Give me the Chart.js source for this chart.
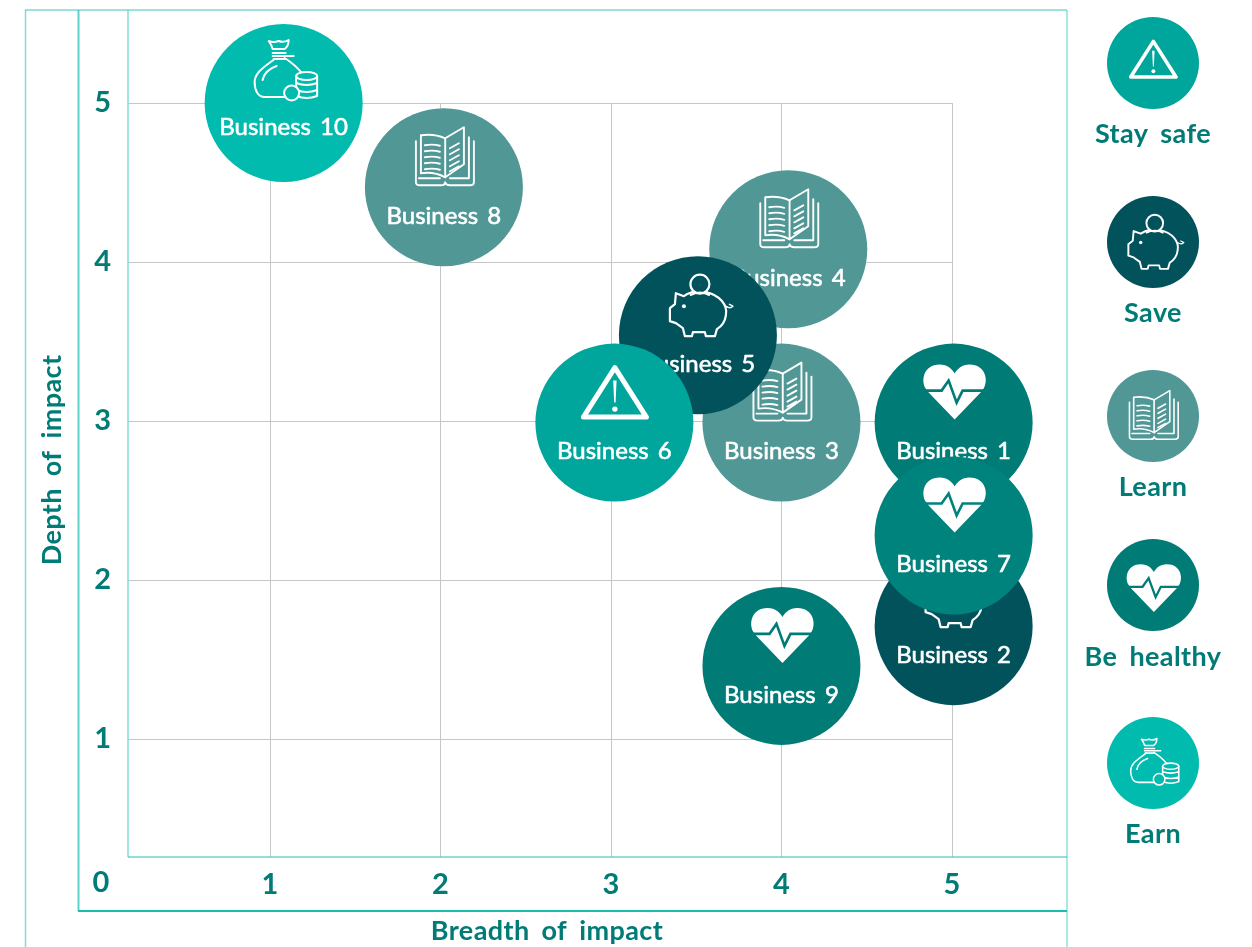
<!DOCTYPE html>
<html>
<head>
<meta charset="utf-8">
<title>Impact of businesses</title>
<script src="https://cdn.jsdelivr.net/npm/chart.js@4/dist/chart.umd.min.js"></script>
<style>
  html, body { margin: 0; padding: 0; background: #fff; }
  canvas { display: block; }
</style>
</head>
<body>
<canvas id="impactChart" width="1252" height="947"></canvas>
<script>
// values
const businesses = ['Business 10', 'Business 8', 'Business 4', 'Business 3', 'Business 5', 'Business 6', 'Business 1', 'Business 2', 'Business 7', 'Business 9'];
const breadth = [1.08, 2.02, 4.04, 4.0, 3.51, 3.02, 5.01, 5.01, 5.01, 4.0];
const depth = [5.0, 4.47, 4.08, 2.99, 3.54, 2.99, 2.99, 1.71, 2.28, 1.46];
const businessPillar = ['Earn', 'Learn', 'Learn', 'Learn', 'Save', 'Stay safe', 'Be healthy', 'Save', 'Be healthy', 'Be healthy'];
const pillars = ['Stay safe', 'Save', 'Learn', 'Be healthy', 'Earn'];
const tickValues = [1, 2, 3, 4, 5];

const FONT = 'Lato, sans-serif';
const TEXT_COLOR = '#007B76';
const GRID_COLOR = '#C6C6C6';
const pillarColors = { 'Stay safe': '#00A59B', 'Save': '#02525C', 'Learn': '#509796', 'Be healthy': '#007B76', 'Earn': '#00BBAE' };
const legendY = [63, 242, 416, 585, 763];
const legendTextY = [134, 313, 487, 657, 834];
// scale and y shift that fit each icon into the smaller legend circle
const legendIconFit = { 'Stay safe': [0.72, 18], 'Save': [0.88, 26], 'Learn': [0.84, 25], 'Be healthy': [0.87, 29.6], 'Earn': [0.77, 24] };

function bubbleColor(name, pillar) {
  if (name === 'Business 7') return '#00827D'; // this one is a bit lighter in the original
  return pillarColors[pillar];
}

function poly(ctx, pts) {
  ctx.beginPath();
  pts.forEach((p, i) => { if (i === 0) ctx.moveTo(p[0], p[1]); else ctx.lineTo(p[0], p[1]); });
}

// icons are drawn relative to the circle centre, sized for the big bubbles
function drawWarning(ctx) {
  ctx.lineWidth = 5;
  ctx.lineJoin = 'round';
  poly(ctx, [[0.5, -55], [32, -5.5], [-31, -5.5]]);
  ctx.closePath();
  ctx.stroke();
  ctx.beginPath();
  ctx.moveTo(-1.2, -42);
  ctx.lineTo(2.2, -42);
  ctx.lineTo(1.2, -20);
  ctx.lineTo(-0.2, -20);
  ctx.closePath();
  ctx.fill();
  ctx.beginPath();
  ctx.arc(0.5, -13.5, 2.7, 0, Math.PI * 2);
  ctx.fill();
}

function drawPig(ctx) {
  ctx.lineWidth = 2.2;
  ctx.lineJoin = 'round';
  ctx.beginPath();
  ctx.arc(2, -51, 9.5, 0, Math.PI * 2);
  ctx.stroke();
  ctx.beginPath();
  ctx.moveTo(-8, -40);
  ctx.quadraticCurveTo(2, -45, 12, -40);
  ctx.stroke();
  ctx.beginPath();
  ctx.moveTo(8, -43);
  ctx.bezierCurveTo(22, -40, 30, -30, 28, -20);
  ctx.quadraticCurveTo(27, -11, 19, -6);
  ctx.lineTo(17, 1);
  ctx.lineTo(8, 1);
  ctx.lineTo(7, -3);
  ctx.lineTo(-5, -3);
  ctx.lineTo(-6, 1);
  ctx.lineTo(-13, 1);
  ctx.lineTo(-15, -7);
  ctx.lineTo(-22, -12);
  ctx.lineTo(-28, -14);
  ctx.lineTo(-28, -27);
  ctx.lineTo(-23, -31);
  ctx.lineTo(-22, -42);
  ctx.lineTo(-14, -39);
  ctx.quadraticCurveTo(-8, -43, -3, -43.5);
  ctx.stroke();
  ctx.beginPath();
  ctx.arc(-14, -29, 2, 0, Math.PI * 2);
  ctx.fill();
  ctx.lineWidth = 1.4;
  ctx.beginPath();
  ctx.moveTo(28, -29);
  ctx.quadraticCurveTo(32, -26, 35, -29);
  ctx.lineTo(31, -31);
  ctx.stroke();
}

function drawBook(ctx) {
  ctx.lineWidth = 1.9;
  ctx.lineJoin = 'round';
  ctx.lineCap = 'round';
  // left page
  ctx.beginPath();
  ctx.moveTo(1.3, -49);
  ctx.quadraticCurveTo(-10, -54, -23, -52);
  ctx.lineTo(-23, -14);
  ctx.quadraticCurveTo(-10, -16, 1.3, -10);
  ctx.stroke();
  // right page
  poly(ctx, [[1.3, -49], [20, -60], [20, -23], [1.3, -10]]);
  ctx.closePath();
  ctx.stroke();
  // cover
  ctx.beginPath();
  ctx.moveTo(-28, -46);
  ctx.lineTo(-28, -5);
  ctx.quadraticCurveTo(-28, -2, -24, -2);
  ctx.lineTo(-3, -2);
  ctx.quadraticCurveTo(1, -2, 1.3, -5);
  ctx.quadraticCurveTo(2, -2, 6, -2);
  ctx.lineTo(26, -2);
  ctx.quadraticCurveTo(30, -2, 30, -5);
  ctx.lineTo(30, -46);
  ctx.stroke();
  ctx.beginPath();
  ctx.moveTo(25, -50);
  ctx.lineTo(25, -9);
  ctx.lineTo(6, -9);
  ctx.moveTo(-25, -9);
  ctx.lineTo(-4, -9);
  ctx.stroke();
  // lines of text
  [-42, -36, -30, -24, -18].forEach(y => {
    ctx.beginPath();
    ctx.moveTo(-19, y);
    ctx.quadraticCurveTo(-11, y - 1.5, -4, y + 0.5);
    ctx.stroke();
  });
  [-43, -37, -31, -25, -20].forEach(y => {
    ctx.beginPath();
    ctx.moveTo(6, y + 4);
    ctx.lineTo(15, y - 1);
    ctx.stroke();
  });
}

function drawHeart(ctx, fill) {
  ctx.beginPath();
  ctx.moveTo(1, -3);
  ctx.lineTo(-25, -30);
  ctx.lineTo(-28, -34);
  ctx.bezierCurveTo(-33, -42, -30, -58, -14, -58);
  ctx.bezierCurveTo(-6, -58, -1, -53, 1, -49);
  ctx.bezierCurveTo(3, -53, 8, -58, 16, -58);
  ctx.bezierCurveTo(32, -58, 35, -42, 30, -34);
  ctx.lineTo(27, -30);
  ctx.closePath();
  ctx.fill();
  ctx.save();
  ctx.strokeStyle = fill;
  ctx.lineWidth = 2.6;
  ctx.lineJoin = 'miter';
  poly(ctx, [[-33, -32], [-12, -32], [-5, -42], [3, -20], [9, -32], [34, -32]]);
  ctx.stroke();
  ctx.restore();
}

function drawMoney(ctx, fill) {
  ctx.lineWidth = 2;
  ctx.lineJoin = 'round';
  ctx.lineCap = 'round';
  // knot
  ctx.beginPath();
  ctx.moveTo(-15, -62);
  ctx.quadraticCurveTo(-10, -60, -5, -62);
  ctx.quadraticCurveTo(0, -60, 5, -63);
  ctx.quadraticCurveTo(5, -57, 1, -54);
  ctx.lineTo(-11, -54);
  ctx.quadraticCurveTo(-12, -58, -15, -62);
  ctx.stroke();
  ctx.beginPath();
  ctx.moveTo(-11, -50);
  ctx.lineTo(2, -50);
  ctx.moveTo(-11, -47);
  ctx.lineTo(10, -47);
  ctx.moveTo(-10, -44);
  ctx.lineTo(2, -44);
  ctx.stroke();
  // bag
  ctx.beginPath();
  ctx.moveTo(-9, -44);
  ctx.bezierCurveTo(-18, -37, -29, -31, -29, -21);
  ctx.bezierCurveTo(-29, -13, -26, -6, -19, -6);
  ctx.lineTo(2, -6);
  ctx.moveTo(1, -45);
  ctx.quadraticCurveTo(12, -38, 19, -29);
  ctx.stroke();
  ctx.beginPath();
  ctx.moveTo(-21, -23);
  ctx.quadraticCurveTo(-19, -33, -7, -37);
  ctx.stroke();
  // coin stack
  ctx.beginPath();
  ctx.ellipse(23, -27, 10.5, 4, 0, 0, Math.PI * 2);
  ctx.fillStyle = fill;
  ctx.fill();
  ctx.stroke();
  ctx.beginPath();
  ctx.moveTo(12.5, -27);
  ctx.lineTo(12.5, -7);
  ctx.quadraticCurveTo(23, -3, 33.5, -7);
  ctx.lineTo(33.5, -27);
  ctx.moveTo(12.5, -20);
  ctx.quadraticCurveTo(23, -16, 33.5, -20);
  ctx.moveTo(12.5, -13);
  ctx.quadraticCurveTo(23, -9, 33.5, -13);
  ctx.stroke();
  // single coin in front
  ctx.beginPath();
  ctx.arc(8, -10, 7.5, 0, Math.PI * 2);
  ctx.fill();
  ctx.stroke();
}

const iconDrawers = { 'Stay safe': drawWarning, 'Save': drawPig, 'Learn': drawBook, 'Be healthy': drawHeart, 'Earn': drawMoney };

function drawIcon(ctx, pillar, x, y, scale, fill) {
  ctx.save();
  ctx.translate(x, y);
  ctx.scale(scale, scale);
  ctx.strokeStyle = '#fff';
  ctx.fillStyle = '#fff';
  iconDrawers[pillar](ctx, fill);
  ctx.restore();
}

// thicken is a thin outline, the original font sits between regular and bold
function centerText(ctx, text, x, y, font, color, wordGap, letterGap, thicken) {
  ctx.save();
  ctx.font = font;
  ctx.fillStyle = color;
  ctx.textAlign = 'center';
  ctx.textBaseline = 'middle';
  ctx.wordSpacing = (wordGap || 0) + 'px';
  ctx.letterSpacing = (letterGap || 0) + 'px';
  if (thicken) {
    ctx.strokeStyle = color;
    ctx.lineWidth = thicken;
    ctx.lineJoin = 'round';
    ctx.strokeText(text, x, y);
  }
  ctx.fillText(text, x, y);
  ctx.restore();
}

function hline(ctx, x1, x2, y, color, width) {
  ctx.strokeStyle = color;
  ctx.lineWidth = width;
  ctx.beginPath();
  ctx.moveTo(x1, y);
  ctx.lineTo(x2, y);
  ctx.stroke();
}

function vline(ctx, x, y1, y2, color, width) {
  ctx.strokeStyle = color;
  ctx.lineWidth = width;
  ctx.beginPath();
  ctx.moveTo(x, y1);
  ctx.lineTo(x, y2);
  ctx.stroke();
}

const impactPlugin = {
  id: 'impactPlugin',
  // frames and the grid, which stops at 5 on both axes
  beforeDatasetsDraw(chart) {
    const { ctx, scales, chartArea } = chart;
    const xs = scales.x;
    const ys = scales.y;
    ctx.save();
    tickValues.forEach(v => {
      vline(ctx, Math.round(xs.getPixelForValue(v)) + 0.5, ys.getPixelForValue(5), chartArea.bottom, GRID_COLOR, 1);
      hline(ctx, chartArea.left, xs.getPixelForValue(5), Math.round(ys.getPixelForValue(v)) + 0.5, GRID_COLOR, 1);
    });
    vline(ctx, 25.5, 10, 947, '#80DCD4', 1.5);
    vline(ctx, 78.5, 10, 911, '#5CD2C8', 2);
    vline(ctx, chartArea.left, 10, chartArea.bottom, '#80DCD4', 1.5);
    vline(ctx, chartArea.right, 10, 947, '#8FE0D9', 1.5);
    hline(ctx, 25, chartArea.right, 10, '#3CC5BA', 1.2);
    hline(ctx, chartArea.left, chartArea.right, chartArea.bottom, '#2DBBAF', 1.2);
    hline(ctx, 78, chartArea.right, 911, '#1ABDB0', 2);
    ctx.restore();
    centerText(ctx, '0', xs.getPixelForValue(0) + 1.5, 883, 'bold 29px ' + FONT, TEXT_COLOR);
    centerText(ctx, 'Breadth of impact', 547, 931, 'bold 27px ' + FONT, TEXT_COLOR, 5, 0.4);
    ctx.save();
    ctx.translate(52, 460);
    ctx.rotate(-Math.PI / 2);
    centerText(ctx, 'Depth of impact', 0, 0, 'bold 27px ' + FONT, TEXT_COLOR, 5, 0.4);
    ctx.restore();
  },
  // icon and name go right after each circle so that later circles cover them
  afterDatasetDraw(chart, args) {
    const { ctx } = chart;
    const i = args.index;
    const pt = args.meta.data[0];
    const pillar = businessPillar[i];
    const fill = bubbleColor(businesses[i], pillar);
    drawIcon(ctx, pillar, pt.x, pt.y, 1, fill);
    const textDy = pillar === 'Earn' ? 24 : 29;
    centerText(ctx, businesses[i], pt.x, pt.y + textDy, '24px ' + FONT, '#fff', 3, 0, 0.6);
  },
  afterDraw(chart) {
    const { ctx } = chart;
    pillars.forEach((p, i) => {
      ctx.fillStyle = pillarColors[p];
      ctx.beginPath();
      ctx.arc(1153, legendY[i], 46, 0, Math.PI * 2);
      ctx.fill();
      const fit = legendIconFit[p];
      drawIcon(ctx, p, 1153, legendY[i] + fit[1], fit[0], pillarColors[p]);
      centerText(ctx, p, 1153, legendTextY[i], 'bold 27px ' + FONT, TEXT_COLOR, 5, 0.4);
    });
  }
};

// the scale reserves room for half a tick label by default, which would push the plot off its frame
function dropScalePadding(s) {
  s.paddingTop = 0;
  s.paddingBottom = 0;
  s.paddingLeft = 0;
  s.paddingRight = 0;
}

new Chart(document.getElementById('impactChart'), {
  type: 'bubble',
  plugins: [impactPlugin],
  data: {
    datasets: businesses.map((name, i) => ({
      label: name,
      data: [{ x: breadth[i], y: depth[i], r: 79 }],
      backgroundColor: bubbleColor(name, businessPillar[i]),
      borderWidth: 0,
      hoverBorderWidth: 0,
      clip: false,
      order: businesses.length - i // higher order is painted first
    }))
  },
  options: {
    responsive: false,
    animation: false,
    events: [],
    layout: { autoPadding: false, padding: { top: 10, right: 185, left: 0, bottom: 0 } },
    plugins: { legend: { display: false }, tooltip: { enabled: false } },
    scales: {
      x: {
        type: 'linear',
        min: 0.167,
        max: 5.675,
        afterFit: s => { s.height = 90; dropScalePadding(s); },
        afterBuildTicks: s => { s.ticks = tickValues.map(v => ({ value: v })); },
        grid: { display: false, drawTicks: false },
        border: { display: false },
        ticks: { color: TEXT_COLOR, font: { family: FONT, size: 29, weight: 'bold' }, padding: 10, maxRotation: 0, autoSkip: false }
      },
      y: {
        type: 'linear',
        min: 0.258,
        max: 5.585,
        afterFit: s => { s.width = 128; dropScalePadding(s); },
        afterBuildTicks: s => { s.ticks = tickValues.map(v => ({ value: v })); },
        grid: { display: false, drawTicks: false },
        border: { display: false },
        ticks: { color: TEXT_COLOR, font: { family: FONT, size: 29, weight: 'bold' }, padding: 17, autoSkip: false }
      }
    }
  }
});
</script>
</body>
</html>
